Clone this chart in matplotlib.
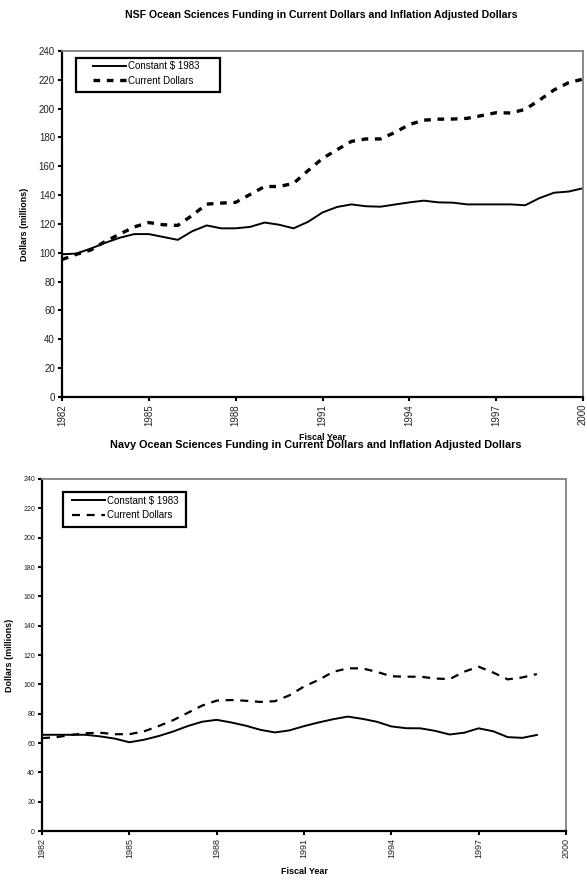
import matplotlib
matplotlib.use('Agg')
import matplotlib.pyplot as plt
import numpy as np
from matplotlib.patches import Rectangle

plt.rcParams['font.family'] = ['Liberation Sans', 'DejaVu Sans']

# half-year readings
nsf_years = np.arange(1982, 2000.01, 0.5)
nsf_constant = [99, 99.5, 103, 107, 110.5, 113, 113, 111, 109, 115, 119, 117, 117, 118,
                121, 119.5, 117, 121.5, 128, 131.8, 133.6, 132.3, 132, 133.5, 135, 136.2,
                135, 134.8, 133.6, 133.6, 133.6, 133.6, 133, 138, 141.7, 142.5, 144.8]
nsf_current = [95.3, 99, 102, 108, 113, 118, 121, 119.5, 119, 126, 133.8, 134.5, 135, 140.5,
               146, 146, 148.2, 157, 165.5, 171.5, 177.3, 179, 179, 183.5, 189, 192, 192.7,
               192.8, 193.3, 195.2, 197.2, 197, 199.5, 206, 213, 218, 220.5]

navy_years = np.arange(1982, 1999.01, 0.5)
navy_constant = [65.6, 65.6, 65.6, 65.6, 64.5, 63, 60.5, 62.2, 64.7, 67.8, 71.5, 74.5, 75.8,
                 74, 71.8, 69, 67.2, 68.6, 71.5, 74, 76.2, 78, 76.5, 74.5, 71.3, 70.1, 70,
                 68.3, 65.8, 67, 70, 68, 64, 63.5, 65.5]
navy_current = [63.3, 64, 65.5, 66.7, 67, 66, 66, 67.9, 71.5, 75.5, 80.5, 85.5, 88.9, 89.3,
                88.8, 88, 88.5, 92.5, 98.5, 103, 108.5, 110.9, 110.9, 108.5, 105.5, 105.2,
                105.2, 104, 103.5, 108.6, 112, 108, 103.4, 104.7, 107]

year_ticks = [1982, 1985, 1988, 1991, 1994, 1997, 2000]
value_ticks = list(range(0, 241, 20))

W, H = 587, 883
fig = plt.figure(figsize=(W / 100, H / 100), dpi=100)


def px_axes(x0, x1, y0, y1):
    # pixel box -> figure fraction
    return fig.add_axes([x0 / W, 1 - y1 / H, (x1 - x0) / W, (y1 - y0) / H])


def style_axes(ax, ytick_size, xtick_size):
    ax.set_xlim(1982, 2000)
    ax.set_ylim(0, 240)
    ax.set_xticks(year_ticks)
    ax.set_xticklabels([str(y) for y in year_ticks], rotation=90, fontsize=xtick_size,
                       color='#222222')
    ax.set_yticks(value_ticks)
    ax.set_yticklabels([str(v) for v in value_ticks], fontsize=ytick_size, color='#222222')
    for s in ['left', 'bottom']:
        ax.spines[s].set_linewidth(1.6)
        ax.spines[s].set_color('black')
    for s in ['top', 'right']:
        ax.spines[s].set_linewidth(1.3)
        ax.spines[s].set_color('#808080')
    ax.tick_params(axis='both', direction='out', length=3, width=1.5, pad=2)


def add_legend(ax, line1, line2, hx, ty, box):
    ax.add_patch(Rectangle((box[0], box[1]), box[2], box[3], transform=ax.transAxes,
                           fill=False, edgecolor='black', linewidth=1.6, zorder=5))
    ax.legend([line1, line2], ['Constant $ 1983', 'Current Dollars'],
              loc='upper left', bbox_to_anchor=(hx, ty), frameon=False, borderpad=0,
              handlelength=3.4, handletextpad=0.15, labelspacing=0.45, fontsize=7,
              borderaxespad=0)


# NSF chart
ax1 = px_axes(62, 583, 51, 397)
style_axes(ax1, 7, 7)
l1, = ax1.plot(nsf_years, nsf_constant, color='black', linewidth=1.4)
l2, = ax1.plot(nsf_years, nsf_current, color='black', linewidth=2.4)
l2.set_dashes((2.0, 2.0))
add_legend(ax1, l1, l2, 0.0595, 0.97, (0.027, 0.8815, 0.2764, 0.0983))

# Navy chart
ax2 = px_axes(42, 566, 479, 831)
style_axes(ax2, 5, 6.5)
m1, = ax2.plot(navy_years, navy_constant, color='black', linewidth=1.4)
m2, = ax2.plot(navy_years, navy_current, color='black', linewidth=1.6)
m2.set_dashes((3.6, 3.0))
add_legend(ax2, m1, m2, 0.0573, 0.952, (0.040, 0.8636, 0.2348, 0.0995))

fig.text(321 / W, 1 - 15 / H,
         'NSF Ocean Sciences Funding in Current Dollars and Inflation Adjusted Dollars',
         ha='center', va='center', fontsize=7.6, fontweight='bold')
fig.text(316 / W, 1 - 445 / H,
         'Navy Ocean Sciences Funding in Current Dollars and Inflation Adjusted Dollars',
         ha='center', va='center', fontsize=7.8, fontweight='bold')
fig.text(322 / W, 1 - 437 / H, 'Fiscal Year', ha='center', va='center',
         fontsize=6.5, fontweight='bold')
fig.text(304 / W, 1 - 872 / H, 'Fiscal Year', ha='center', va='center',
         fontsize=6.5, fontweight='bold')
fig.text(25 / W, 1 - 224 / H, 'Dollars (millions)', ha='center', va='center',
         rotation=90, fontsize=6.5, fontweight='bold')
fig.text(10 / W, 1 - 655 / H, 'Dollars (millions)', ha='center', va='center',
         rotation=90, fontsize=6.5, fontweight='bold')

fig.savefig('out.png', dpi=100)
